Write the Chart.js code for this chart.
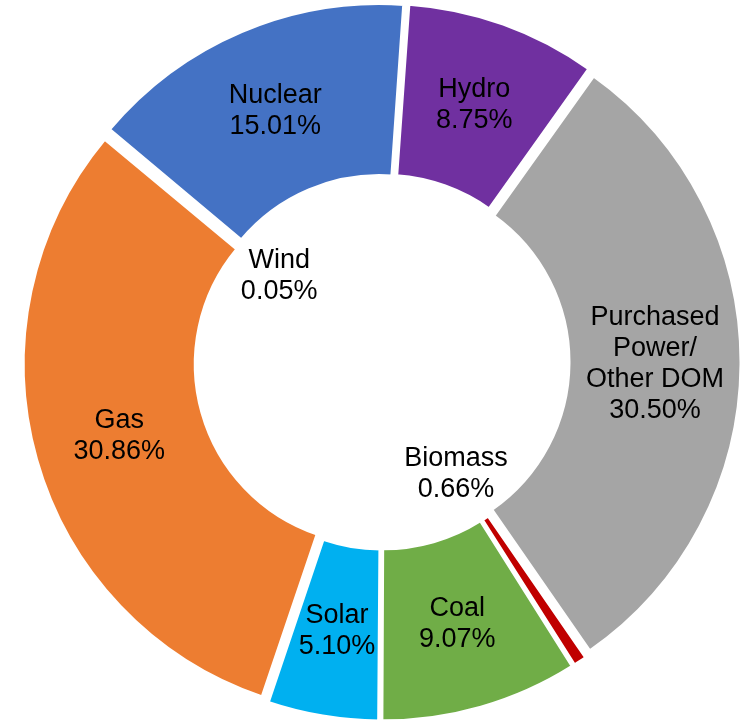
<!DOCTYPE html>
<html>
<head>
<meta charset="utf-8">
<script src="https://cdn.jsdelivr.net/npm/chart.js"></script>
<style>
  html, body { margin: 0; padding: 0; background: #fff; }
  canvas { display: block; }
</style>
</head>
<body>
<canvas id="grafico" width="743" height="721"></canvas>
<script>
// Dados do gráfico (sentido horário a partir do topo)
const categorias = ["Hydro", ["Purchased", "Power/", "Other DOM"], "Biomass", "Coal", "Solar", "Gas", "Wind", "Nuclear"];
const percentuais = [8.75, 30.50, 0.66, 9.07, 5.10, 30.86, 0.05, 15.01];
const cores = ["#7030A0", "#A5A5A5", "#C00000", "#70AD47", "#00B0F0", "#ED7D31", "#D9D9D9", "#4472C4"];

const total = percentuais.reduce((s, v) => s + v, 0);

// Rótulos desenhados sobre cada fatia
const rotulosPlugin = {
  id: "rotulos",
  afterDatasetsDraw(chart) {
    const ctx = chart.ctx;
    const meta = chart.getDatasetMeta(0);
    ctx.save();
    ctx.font = "27px 'Liberation Sans', Arial, sans-serif";
    ctx.fillStyle = "#000";
    ctx.textAlign = "center";
    ctx.textBaseline = "middle";
    meta.data.forEach((arc, i) => {
      const p = arc.getProps(["x", "y", "startAngle", "endAngle", "innerRadius", "outerRadius"], true);
      const meio = (p.startAngle + p.endAngle) / 2;
      // fatias muito pequenas: rótulo dentro do furo
      const r = percentuais[i] < 1 ? p.innerRadius - 45 : (p.innerRadius + p.outerRadius) / 2 + 8;
      const cx = p.x + Math.cos(meio) * r;
      const cy = p.y + Math.sin(meio) * r;
      const nome = Array.isArray(categorias[i]) ? categorias[i] : [categorias[i]];
      const linhas = nome.concat([percentuais[i].toFixed(2) + "%"]);
      const alturaLinha = 31;
      const y0 = cy - (linhas.length - 1) * alturaLinha / 2;
      linhas.forEach((t, k) => ctx.fillText(t, cx, y0 + k * alturaLinha));
    });
    ctx.restore();
  }
};

new Chart(document.getElementById("grafico"), {
  type: "doughnut",
  data: {
    labels: categorias,
    datasets: [{
      data: percentuais,
      backgroundColor: cores,
      borderColor: "#fff",
      borderWidth: 3,
      hoverOffset: 0,
      // explosão das fatias (~8px para fora em todas)
      offset: (c) => {
        const circ = c.raw / total * 2 * Math.PI;
        const fix = 1 - Math.sin(Math.min(Math.PI, circ));
        return 32 / (1 + fix);
      }
    }]
  },
  options: {
    responsive: false,
    animation: false,
    rotation: 4,
    radius: 351,
    cutout: "51%",
    layout: { padding: { left: 21, right: 0, top: 3, bottom: 0 } },
    plugins: {
      legend: { display: false },
      tooltip: { enabled: false }
    }
  },
  plugins: [rotulosPlugin]
});
</script>
</body>
</html>
